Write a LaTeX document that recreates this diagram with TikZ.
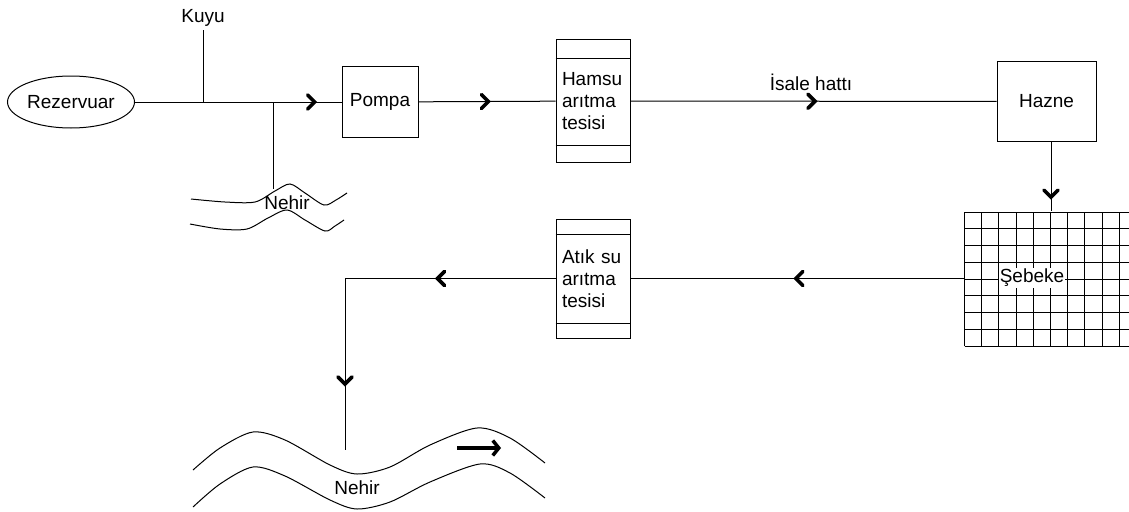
\documentclass[tikz,border=0pt]{standalone}
\usepackage{fontspec}
\setmainfont{Liberation Sans}
\usetikzlibrary{arrows.meta,decorations.markings,shapes.geometric}

\tikzset{
  flow/.style={postaction={decorate,decoration={markings,mark=at position #1 with {\draw[line width=3.6pt,line join=miter,line cap=round] (-7pt,-7pt) -- (0pt,0pt) -- (-7pt,7pt);}}}},
  unit/.style={draw,minimum width=76,minimum height=70},
  plant/.style={draw,minimum width=74,text width=62,inner xsep=6pt,align=left}
}

\begin{document}
\begin{tikzpicture}[x=1pt,y=-1pt,line width=1pt,every node/.style={font=\fontsize{19}{22}\selectfont}]
	\useasboundingbox (0,0) rectangle (1129,511);
	\node[draw,ellipse,inner sep=0pt,minimum width=127,minimum height=52] (rez) at (71,102) {Rezervuar};
	\node (kuyu) at (203,18) {Kuyu};
	\node[unit] (pompa) at (380,102) {Pompa};
	\node[plant,minimum height=122] (hamsu) at (593,101) {Hamsu\\arıtma\\tesisi};
	\draw ([yshift=-19pt]hamsu.north west) -- ([yshift=-19pt]hamsu.north east);
	\draw ([yshift=17pt]hamsu.south west) -- ([yshift=17pt]hamsu.south east);
	\node[draw,minimum width=99,minimum height=79] (hazne) at (1046.5,101.5) {Hazne};
	\node (isale) at (811,82) {İsale hattı};
	\node[plant,minimum height=119] (atik) at (593,278.5) {Atık su\\arıtma\\tesisi};
	\draw ([yshift=-16pt]atik.north west) -- ([yshift=-16pt]atik.north east);
	\draw ([yshift=15pt]atik.south west) -- ([yshift=15pt]atik.south east);
	% sebeke
	\node[minimum width=164,minimum height=134] (sebeke) at (1047,278.5) {};
	\draw[xstep=17.2pt,ystep=16.75pt,shift={(sebeke.south west)}] (0,0) grid (180,-134.1);
	\node[fill=white,inner sep=1pt] (sebekelbl) at (1032,278) {Şebeke};
	% nehir
	\draw plot[smooth] coordinates {(191,199) (225,202) (255,202) (275,191) (290,184) (305,193) (324,205) (336,200) (347,193)};
	\draw plot[smooth] coordinates {(190,224) (220,229) (247,229) (268,218) (287,210) (305,220) (325,231) (335,226) (344,220)};
	\node (nehir1) at (287,203) {Nehir};
	\draw plot[smooth] coordinates {(193,470) (220,448) (253,432) (285,440) (330,465) (357,474) (390,467) (430,445) (477,428) (510,438) (545,463)};
	\draw plot[smooth] coordinates {(193,507) (220,484) (253,467) (285,476) (330,500) (357,509) (390,502) (430,482) (480,464) (510,473) (545,498)};
	\node (nehir2) at (357,488) {Nehir};
	\draw[line width=3.5pt,-{Straight Barb[length=6pt,width=15pt]}] (457,448) -- (501,448);
	% hatlar
	\coordinate (kuyuj) at (kuyu.south |- rez);
	\coordinate (nehirj) at (273,102);
	\coordinate (nehirin) at (273,189);
	\coordinate (bend) at (345,278.5);
	\coordinate (outlet) at (345,450);
	\draw[flow=0.87] (rez) -- (pompa);
	\draw (kuyu) -- (kuyuj);
	\draw (nehirj) -- (nehirin);
	\draw[flow=0.51] (pompa) -- (hamsu);
	\draw[flow=0.504] (hamsu) -- (hazne);
	\draw[flow=0.8] ([xshift=4.5pt]hazne.south) -- ([xshift=4.5pt]hazne.south |- sebeke.north);
	\draw[flow=0.505] (sebeke) -- (atik);
	\draw[flow=118pt,flow=316pt] (atik) -- (bend) -- (outlet);
\end{tikzpicture}
\end{document}
